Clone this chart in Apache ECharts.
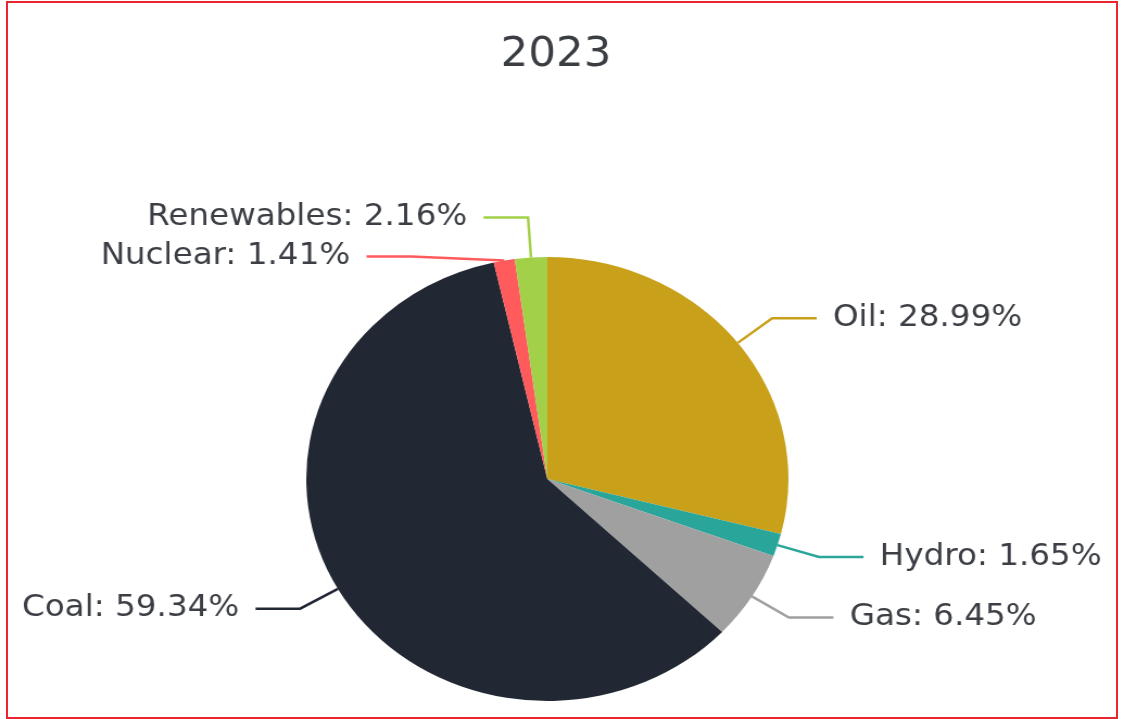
<!DOCTYPE html>
<html>
<head>
<meta charset="utf-8">
<script src="https://cdn.jsdelivr.net/npm/echarts@6/dist/echarts.min.js"></script>
<style>
  html, body { margin: 0; padding: 0; background: #ffffff; width: 1123px; height: 719px; overflow: hidden; }
  #frame { position: absolute; left: 6px; top: 1px; width: 1108px; height: 714px; border: 2px solid #ea2530; box-sizing: content-box; }
  #chart { position: absolute; left: 0; top: 0; width: 1034px; height: 719px; transform: scaleX(1.086); transform-origin: 0 0; }
</style>
</head>
<body>
<div id="frame"></div>
<div id="chart"></div>
<script>
// Energy mix for 2023, share of total (%)
const title = '2023';
const categories = ['Oil', 'Hydro', 'Gas', 'Coal', 'Nuclear', 'Renewables'];
const shares = [28.99, 1.65, 6.45, 59.34, 1.41, 2.16];
const sliceColors = ['#c8a019', '#2aa59a', '#a0a0a0', '#222833', '#ff5a5c', '#a2d048'];

const chart = echarts.init(document.getElementById('chart'), null, { renderer: 'canvas' });

chart.setOption({
  animation: false,
  backgroundColor: 'transparent',
  title: {
    text: title,
    left: 507,
    top: 31,
    textAlign: 'center',
    textStyle: {
      fontFamily: 'DejaVu Sans',
      fontSize: 40,
      fontWeight: 'normal',
      color: '#3a3d42'
    }
  },
  color: sliceColors,
  series: [{
    type: 'pie',
    center: [504, 479],
    radius: 222,
    startAngle: 90,
    clockwise: true,
    avoidLabelOverlap: true,
    data: categories.map((name, i) => ({ name: name, value: shares[i] })),
    label: {
      show: true,
      formatter: '{b}: {c}%',
      fontFamily: 'DejaVu Sans',
      fontSize: 30,
      lineHeight: 37,
      color: '#3b3e44',
      distanceToLabelLine: 15
    },
    labelLine: {
      show: true,
      length: 40,
      length2: 41,
      lineStyle: { width: 2.5 }
    },
    itemStyle: { borderWidth: 0 },
    emphasis: { disabled: true }
  }]
});
</script>
</body>
</html>
